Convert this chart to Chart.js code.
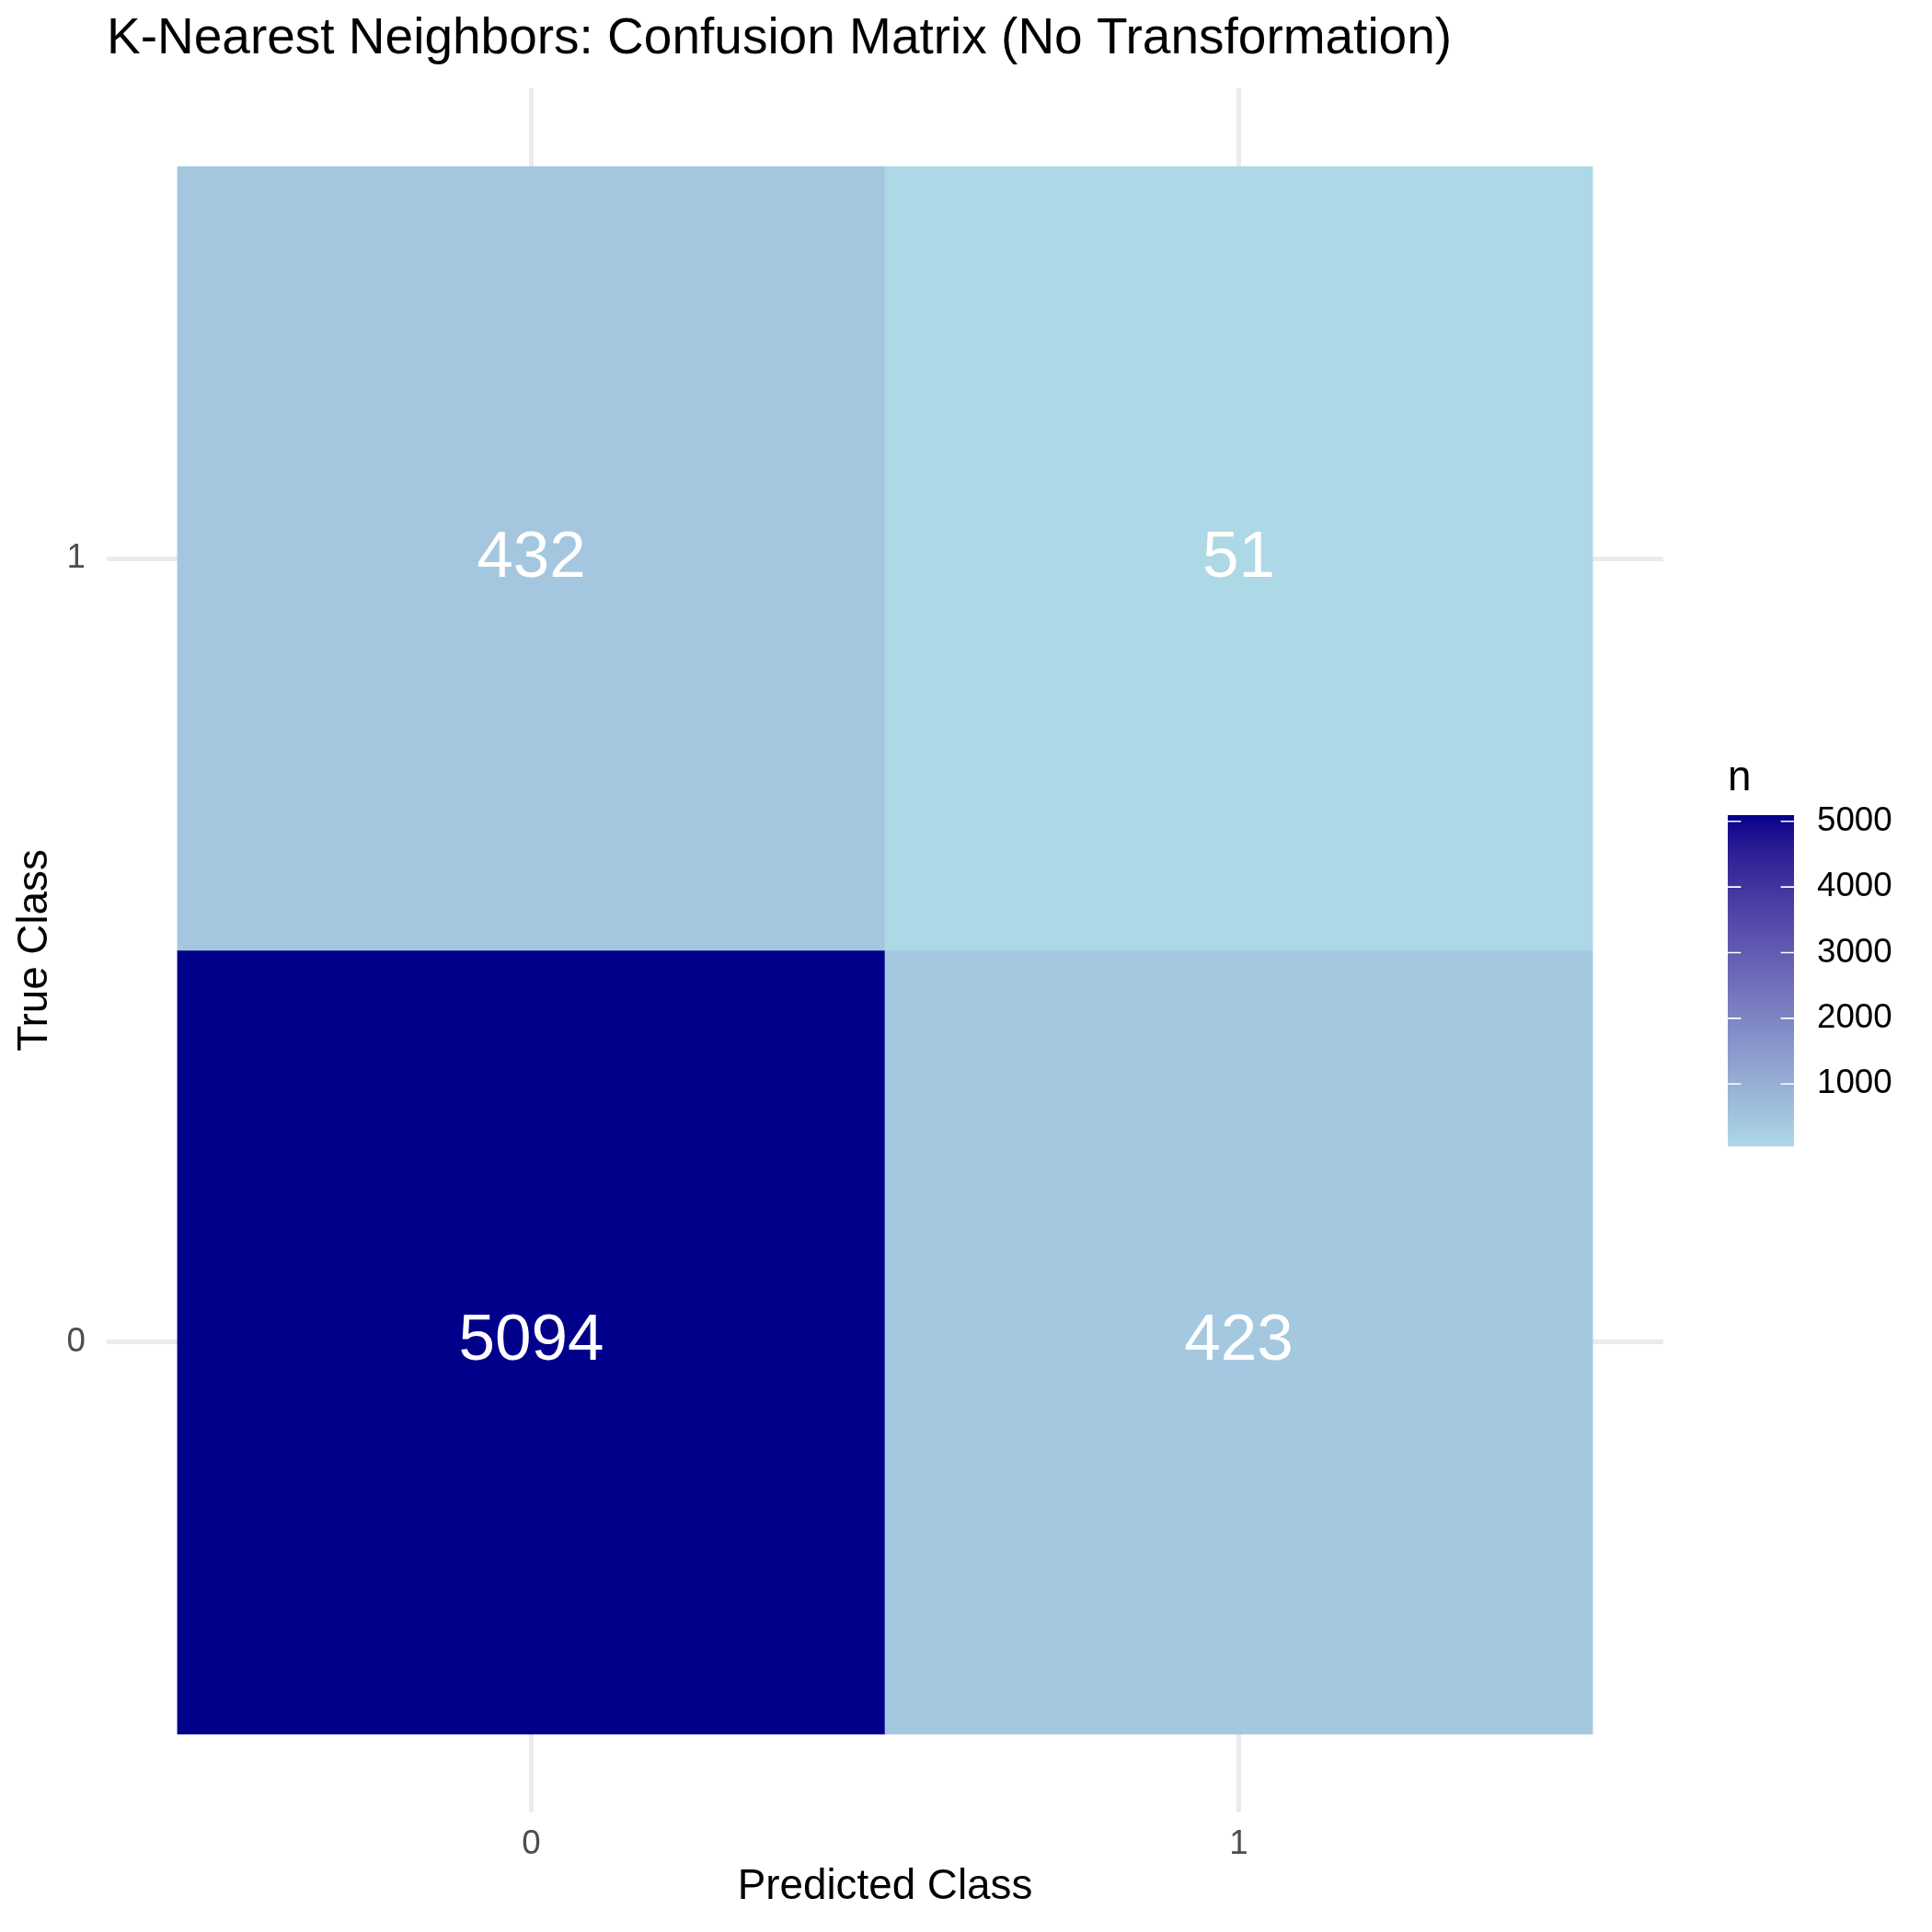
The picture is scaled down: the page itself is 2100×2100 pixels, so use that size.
<!DOCTYPE html>
<html>
<head>
<meta charset="utf-8">
<title>KNN confusion matrix</title>
<script src="https://cdn.jsdelivr.net/npm/chart.js@4.4.1/dist/chart.umd.min.js"></script>
<style>
  html, body { margin: 0; padding: 0; background: #ffffff; }
  canvas { display: block; }
</style>
</head>
<body>
<canvas id="cm" width="2100" height="2100"></canvas>
<script>
const predClass = [0, 1, 0, 1];
const trueClass = [0, 0, 1, 1];
const counts = [5094, 423, 432, 51];
const classLabels = ["0", "1"];
const legendTicks = [1000, 2000, 3000, 4000, 5000];

const FONT = "'Liberation Sans', Arial, Helvetica, sans-serif";
const LOW = "#ADD8E6";   // lightblue
const HIGH = "#00008B";  // darkblue

// ggplot style gradient: interpolate in Lab space
function hexToRgb(h) {
  return [parseInt(h.slice(1, 3), 16), parseInt(h.slice(3, 5), 16), parseInt(h.slice(5, 7), 16)];
}
function toLin(c) { c /= 255; return c <= 0.04045 ? c / 12.92 : Math.pow((c + 0.055) / 1.055, 2.4); }
function fromLin(c) {
  c = c <= 0.0031308 ? 12.92 * c : 1.055 * Math.pow(c, 1 / 2.4) - 0.055;
  return Math.round(Math.max(0, Math.min(1, c)) * 255);
}
const WN = [0.95047, 1.0, 1.08883];
const D = 6 / 29;
function f(t) { return t > D * D * D ? Math.cbrt(t) : t / (3 * D * D) + 4 / 29; }
function finv(t) { return t > D ? t * t * t : 3 * D * D * (t - 4 / 29); }
function rgbToLab(rgb) {
  const [r, g, b] = rgb.map(toLin);
  const X = 0.4124 * r + 0.3576 * g + 0.1805 * b;
  const Y = 0.2126 * r + 0.7152 * g + 0.0722 * b;
  const Z = 0.0193 * r + 0.1192 * g + 0.9505 * b;
  const fx = f(X / WN[0]), fy = f(Y / WN[1]), fz = f(Z / WN[2]);
  return [116 * fy - 16, 500 * (fx - fy), 200 * (fy - fz)];
}
function labToRgb(lab) {
  const fy = (lab[0] + 16) / 116, fx = fy + lab[1] / 500, fz = fy - lab[2] / 200;
  const X = WN[0] * finv(fx), Y = WN[1] * finv(fy), Z = WN[2] * finv(fz);
  const r = 3.2406 * X - 1.5372 * Y - 0.4986 * Z;
  const g = -0.9689 * X + 1.8758 * Y + 0.0415 * Z;
  const b = 0.0557 * X - 0.2040 * Y + 1.0570 * Z;
  return [fromLin(r), fromLin(g), fromLin(b)];
}
const labLow = rgbToLab(hexToRgb(LOW));
const labHigh = rgbToLab(hexToRgb(HIGH));
const vMin = Math.min(...counts);
const vMax = Math.max(...counts);
function fillFor(v) {
  const t = (v - vMin) / (vMax - vMin);
  const lab = labLow.map((a, i) => a + (labHigh[i] - a) * t);
  const c = labToRgb(lab);
  return `rgb(${c[0]},${c[1]},${c[2]})`;
}

// tiles: floating bars one unit tall centred on each class
const tiles = counts.map((n, i) => ({ x: predClass[i], y: [trueClass[i] - 0.5, trueClass[i] + 0.5] }));

const cellLabels = {
  id: "cellLabels",
  afterDatasetsDraw(chart) {
    const { ctx, scales } = chart;
    ctx.save();
    ctx.fillStyle = "#ffffff";
    ctx.font = `71px ${FONT}`;
    ctx.textAlign = "center";
    ctx.textBaseline = "middle";
    counts.forEach((n, i) => {
      ctx.fillText(String(n), scales.x.getPixelForValue(predClass[i]), scales.y.getPixelForValue(trueClass[i]));
    });
    ctx.restore();
  }
};

const colourBar = {
  id: "colourBar",
  afterDraw(chart) {
    const { ctx, chartArea } = chart;
    const left = chartArea.right + 70, top = 886, w = 72, h = 360;
    const yFor = v => top + h - (v - vMin) / (vMax - vMin) * h;
    ctx.save();
    for (let i = 0; i < h; i++) {
      const v = vMin + (vMax - vMin) * (1 - (i + 0.5) / h);
      ctx.fillStyle = fillFor(v);
      ctx.fillRect(left, top + i, w, 1.2);
    }
    ctx.strokeStyle = "#ffffff";
    ctx.lineWidth = 1.6;
    ctx.fillStyle = "#000000";
    ctx.font = `36.7px ${FONT}`;
    ctx.textAlign = "left";
    ctx.textBaseline = "middle";
    legendTicks.forEach(v => {
      const y = yFor(v);
      ctx.beginPath();
      ctx.moveTo(left, y); ctx.lineTo(left + 14.4, y);
      ctx.moveTo(left + w - 14.4, y); ctx.lineTo(left + w, y);
      ctx.stroke();
      ctx.fillText(String(v), left + w + 25, y);
    });
    ctx.font = `45.8px ${FONT}`;
    ctx.textBaseline = "alphabetic";
    ctx.fillText("n", left, 859);
    ctx.restore();
  }
};

const classTicks = scale => { scale.ticks = classLabels.map((l, i) => ({ value: i })); };

new Chart(document.getElementById("cm"), {
  type: "bar",
  data: {
    datasets: [{
      data: tiles,
      backgroundColor: ctx => fillFor(counts[ctx.dataIndex]),
      borderWidth: 0,
      barPercentage: 1,
      categoryPercentage: 1
    }]
  },
  options: {
    responsive: false,
    devicePixelRatio: 1,
    animation: false,
    events: [],
    layout: { padding: { left: 0, top: 0, right: 292, bottom: 0 } },
    plugins: {
      legend: { display: false },
      tooltip: { enabled: false },
      title: {
        display: true,
        text: "K-Nearest Neighbors: Confusion Matrix (No Transformation)",
        align: "start",
        fullSize: false,
        color: "#000000",
        font: { family: FONT, size: 55, weight: "normal", lineHeight: 1.2 },
        padding: { top: 10, bottom: 20 }
      }
    },
    scales: {
      x: {
        type: "linear",
        min: -0.6,
        max: 1.6,
        offset: false,
        afterBuildTicks: classTicks,
        afterFit: s => { s.height = 130; },
        grid: { color: "#EBEBEB", lineWidth: 5, drawTicks: false, offset: false },
        border: { display: false },
        ticks: {
          padding: 13,
          color: "#4D4D4D",
          font: { family: FONT, size: 36.7, lineHeight: 1.2 },
          callback: v => classLabels[v]
        },
        title: {
          display: true,
          text: "Predicted Class",
          color: "#000000",
          font: { family: FONT, size: 45.8, lineHeight: 1.2 },
          padding: { top: 0, bottom: 21 }
        }
      },
      y: {
        type: "linear",
        min: -0.6,
        max: 1.6,
        afterBuildTicks: classTicks,
        afterFit: s => { s.width = 116; },
        grid: { color: "#EBEBEB", lineWidth: 5, drawTicks: false },
        border: { display: false },
        ticks: {
          padding: 23,
          color: "#4D4D4D",
          font: { family: FONT, size: 36.7, lineHeight: 1.2 },
          callback: v => classLabels[v]
        },
        title: {
          display: true,
          text: "True Class",
          color: "#000000",
          font: { family: FONT, size: 45.8, lineHeight: 1.2 },
          padding: { top: 10.5, bottom: 0 }
        }
      }
    }
  },
  plugins: [cellLabels, colourBar]
});
</script>
</body>
</html>
